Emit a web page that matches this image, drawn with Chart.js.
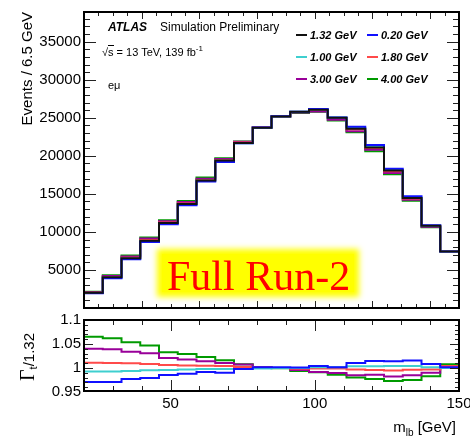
<!DOCTYPE html>
<html><head><meta charset="utf-8">
<script src="https://cdn.jsdelivr.net/npm/chart.js@4.4.0/dist/chart.umd.min.js"></script>
<style>
html,body{margin:0;padding:0;background:#fff;overflow:hidden;}
#wrap{position:relative;width:470px;height:437px;overflow:hidden;font-family:"Liberation Sans",Arial,Helvetica,sans-serif;color:#000;background:#fff;}
canvas{position:absolute;left:0;}
.t{position:absolute;white-space:nowrap;}
</style></head><body>
<div id="wrap">
<canvas id="main" width="490" height="320" style="top:0px"></canvas>
<canvas id="ratio" width="490" height="137" style="top:300px"></canvas>

<div class="t" style="left:108px;top:19px;font:bold italic 12px/16px 'Liberation Sans',Arial;">ATLAS</div>
<div class="t" style="left:160px;top:19px;font:12px/16px 'Liberation Sans',Arial;">Simulation Preliminary</div>
<div class="t" style="left:102px;top:44px;font:11px/16px 'Liberation Sans',Arial;">√<span style="border-top:1px solid #000;">s</span> = 13 TeV, 139 fb<sup style="font-size:8px;vertical-align:5px;line-height:0;">-1</sup></div>
<div class="t" style="left:108px;top:77px;font:11px/16px 'Liberation Sans',Arial;">eμ</div>

<div class="t" style="left:17px;top:381px;height:20px;line-height:20px;transform:rotate(-90deg);transform-origin:left top;font-size:15px;"><span style="font-family:'Liberation Serif','Times New Roman',serif;font-size:20px;">Γ</span><span style="font-size:11px;vertical-align:-3px;">t</span><span>/1.32</span></div>

<div class="t" style="right:14px;top:418px;font:15px/18px 'Liberation Sans',Arial;">m<span style="font-size:10px;vertical-align:-4px;">lb</span> [GeV]</div>

<div class="t" style="left:162px;top:254px;width:192px;height:38px;background:#ffff00;box-shadow:0 0 6px 5px #ffff00;"></div>
<div class="t" style="left:167px;top:255px;font:42px/42px 'Liberation Serif','Times New Roman',serif;color:#ff0000;">Full Run-2</div>
</div>
<script>
// ---------------- data ----------------
const binLowEdges = [20, 26.5, 33, 39.5, 46, 52.5, 59, 65.5, 72, 78.5, 85, 91.5, 98, 104.5, 111, 117.5, 124, 130.5, 137, 143.5];
const xUpperEdge = 150;
const seriesLabels = ['1.32 GeV', '0.20 GeV', '1.00 GeV', '1.80 GeV', '3.00 GeV', '4.00 GeV'];
// nominal (Gamma_t = 1.32 GeV) events per bin
const events132 = [1990, 4040, 6550, 8850, 11170, 13680, 16750, 19380, 21700, 23700, 25170, 25780, 26040, 25000, 23570, 21100, 18060, 14450, 10800, 7420];
// ratios to nominal
const ratio020 = [0.971, 0.971, 0.977, 0.979, 0.9854, 0.988, 0.9917, 0.990, 0.998, 1.0015, 1.0015, 1.0008, 1.0042, 1.0015, 1.0104, 1.0146, 1.014, 1.0154, 1.0083, 1.0015];
const ratio100 = [0.9925, 0.9925, 0.9938, 0.995, 0.996, 0.997, 0.998, 0.998, 0.998, 0.999, 1.000, 1.000, 1.0015, 1.0015, 1.0035, 1.0035, 1.004, 1.0042, 1.0015, 1.000];
const ratio180 = [1.011, 1.0105, 1.0098, 1.0083, 1.006, 1.005, 1.0045, 1.004, 1.002, 1.001, 1.000, 0.9986, 0.9987, 0.9987, 0.997, 0.996, 0.9946, 0.9965, 0.997, 1.004];
const ratio300 = [1.040, 1.039, 1.034, 1.0306, 1.021, 1.0175, 1.014, 1.0104, 1.007, 1.002, 1.000, 0.996, 0.9917, 0.9896, 0.985, 0.986, 0.982, 0.985, 0.990, 1.004];
const ratio400 = [1.065, 1.062, 1.0535, 1.0466, 1.033, 1.029, 1.023, 1.016, 1.0077, 1.001, 0.9994, 0.9938, 0.991, 0.986, 0.980, 0.977, 0.973, 0.975, 0.983, 1.008];
const mainYTicks = [5000, 10000, 15000, 20000, 25000, 30000, 35000];
const ratioYTicks = [0.95, 1, 1.05, 1.1];
const ratioXTicks = [50, 100, 150];

// ---------------- helpers ----------------
const colors = ['#111111', '#1010ff', '#3fcfcf', '#ff4a4a', '#990099', '#009a00'];
function histPoints(values) {
  const pts = values.map((v, i) => ({x: binLowEdges[i], y: v}));
  pts.push({x: xUpperEdge, y: values[values.length - 1]});
  return pts;
}
const ratios = [null, ratio020, ratio100, ratio180, ratio300, ratio400];
const FONT = '"Liberation Sans", Arial, Helvetica, sans-serif';

function range(a, b, s) { const r = []; for (let v = a; v <= b + 1e-9; v += s) r.push(+v.toFixed(4)); return r; }

const frameTicks = {
  id: 'frameTicks',
  afterDatasetsDraw(chart, args, o) {
    const {ctx, chartArea: a, scales} = chart;
    const xs = scales.x, ys = scales.y;
    ctx.save();
    ctx.strokeStyle = '#222'; ctx.lineWidth = 1;
    ctx.beginPath();
    const tx = (vals, len) => vals.forEach(v => {
      if (v <= xs.min || v >= xs.max) return;
      const p = Math.round(xs.getPixelForValue(v)) + 0.5;
      ctx.moveTo(p, a.bottom); ctx.lineTo(p, a.bottom - len);
      ctx.moveTo(p, a.top); ctx.lineTo(p, a.top + len);
    });
    const ty = (vals, len) => vals.forEach(v => {
      if (v <= ys.min || v >= ys.max) return;
      const p = Math.round(ys.getPixelForValue(v)) + 0.5;
      ctx.moveTo(a.left, p); ctx.lineTo(a.left + len, p);
      ctx.moveTo(a.right, p); ctx.lineTo(a.right - len, p);
    });
    tx(o.xMinor, o.xMinorLen); tx(o.xMajor, o.xMajorLen);
    ty(o.yMinor, o.yMinorLen); ty(o.yMajor, o.yMajorLen);
    ctx.stroke();
    ctx.strokeStyle = '#000'; ctx.lineWidth = 2;
    ctx.strokeRect(a.left, a.top, a.right - a.left, a.bottom - a.top);
    ctx.restore();
  }
};

const histLegend = {
  id: 'histLegend',
  afterDraw(chart, args, o) {
    if (!o || !o.show) return;
    const ctx = chart.ctx;
    ctx.save();
    ctx.font = 'bold italic 11px ' + FONT;
    ctx.textBaseline = 'middle';
    chart.data.datasets.forEach((ds, i) => {
      const x = o.x[i % 2], y = o.y[Math.floor(i / 2)];
      ctx.strokeStyle = ds.borderColor; ctx.lineWidth = 2;
      ctx.beginPath(); ctx.moveTo(x, y); ctx.lineTo(x + 11, y); ctx.stroke();
      ctx.fillStyle = '#000';
      ctx.fillText(ds.label, x + 14, y + 0.5);
    });
    ctx.restore();
  }
};

// ---------------- main panel ----------------
const mainDatasets = seriesLabels.map((lab, k) => ({
  label: lab,
  data: histPoints(k === 0 ? events132 : events132.map((n, i) => n * ratios[k][i])),
  borderColor: colors[k],
  borderWidth: 2,
  pointRadius: 0,
  stepped: 'before',
  fill: false
}));

new Chart(document.getElementById('main'), {
  type: 'line',
  data: {datasets: mainDatasets},
  options: {
    responsive: false, animation: false, devicePixelRatio: 1,
    layout: {padding: {top: 12, right: 31, bottom: 9, left: 0}},
    plugins: {
      legend: {display: false}, tooltip: {enabled: false},
      frameTicks: {
        xMajor: range(40, 140, 20), xMinor: range(20, 150, 5), xMajorLen: 7, xMinorLen: 4,
        yMajor: range(5000, 35000, 5000), yMinor: range(1000, 38000, 1000), yMajorLen: 12, yMinorLen: 6
      },
      histLegend: {show: true, x: [296, 367], y: [35, 57, 79]}
    },
    scales: {
      x: {type: 'linear', min: 20, max: 150, display: false},
      y: {
        type: 'linear', min: 0, max: 38900,
        grid: {display: false, drawTicks: false}, border: {display: false},
        afterBuildTicks: s => { s.ticks = mainYTicks.map(v => ({value: v})); },
        afterFit: s => { s.width = 84; },
        ticks: {autoSkip: false, padding: 3, color: '#000', font: {family: FONT, size: 15}, callback: v => String(v)},
        title: {display: true, text: 'Events / 6.5 GeV', align: 'end', color: '#000', font: {family: FONT, size: 15}, padding: {top: 19, bottom: 0}}
      }
    }
  },
  plugins: [frameTicks, histLegend]
});

// ---------------- ratio panel ----------------
const ratioDatasets = seriesLabels.slice(1).map((lab, j) => ({
  label: lab,
  data: histPoints(ratios[j + 1]),
  borderColor: colors[j + 1],
  borderWidth: 2,
  pointRadius: 0,
  stepped: 'before',
  fill: false
}));

new Chart(document.getElementById('ratio'), {
  type: 'line',
  data: {datasets: ratioDatasets},
  options: {
    responsive: false, animation: false, devicePixelRatio: 1,
    layout: {padding: {top: 20, right: 31, bottom: 0, left: 0}},
    plugins: {
      legend: {display: false}, tooltip: {enabled: false},
      frameTicks: {
        xMajor: [50, 100], xMinor: range(30, 140, 10), xMajorLen: 11, xMinorLen: 5,
        yMajor: [1, 1.05], yMinor: range(0.96, 1.09, 0.01), yMajorLen: 9, yMinorLen: 4
      }
    },
    scales: {
      x: {
        type: 'linear', min: 20, max: 150,
        grid: {display: false, drawTicks: false}, border: {display: false},
        afterBuildTicks: s => { s.ticks = ratioXTicks.map(v => ({value: v})); },
        afterFit: s => { s.height = 46; },
        ticks: {autoSkip: false, maxRotation: 0, padding: 4, color: '#000', font: {family: FONT, size: 15}, callback: v => String(v)}
      },
      y: {
        type: 'linear', min: 0.952, max: 1.1,
        grid: {display: false, drawTicks: false}, border: {display: false},
        afterBuildTicks: s => { s.ticks = ratioYTicks.map(v => ({value: v})); },
        afterFit: s => { s.width = 84; },
        ticks: {autoSkip: false, padding: 3, color: '#000', font: {family: FONT, size: 15}, callback: v => String(+v.toFixed(2))}
      }
    }
  },
  plugins: [frameTicks]
});
</script>
</body></html>
